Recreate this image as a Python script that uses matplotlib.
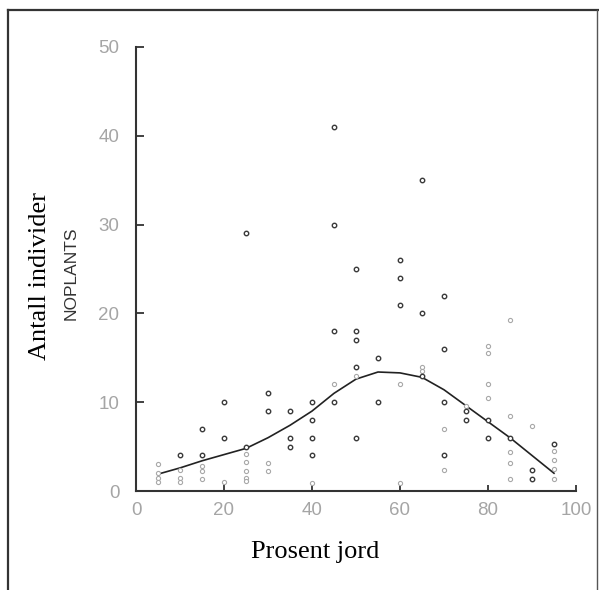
import matplotlib
matplotlib.use("Agg")
import matplotlib.pyplot as plt
from matplotlib.lines import Line2D

# ---- data ----
dark_x = [25, 45, 45, 45, 45, 50, 50, 50, 50, 50, 55, 55, 60, 60, 60, 65, 65, 65,
          70, 70, 70, 70, 35, 35, 35, 40, 40, 40, 40, 30, 30, 20, 20, 15, 15, 10,
          25, 75, 75, 80, 80, 85, 90, 90, 95]
dark_y = [29, 41, 30, 18, 10, 25, 18, 17, 14, 6, 15, 10, 26, 24, 21, 35, 20, 13,
          22, 16, 10, 4, 9, 6, 5, 10, 8, 6, 4, 11, 9, 10, 6, 7, 4, 4,
          5, 9, 8, 8, 6, 6, 2.4, 1.3, 5.3]

faint_x = [5, 5, 5, 5, 10, 10, 10, 15, 15, 15, 20, 25, 25, 25, 25, 25, 30, 30,
           40, 45, 50, 60, 60, 65, 65, 70, 70, 75, 80, 80, 80, 80, 85, 85, 85,
           85, 85, 90, 95, 95, 95, 95]
faint_y = [3, 2, 1.5, 1, 2.4, 1.5, 1, 2.8, 2.2, 1.3, 1, 4.2, 3.3, 2.3, 1.5, 1.1,
           3.2, 2.3, 0.9, 12, 13, 12, 0.9, 14, 13.5, 7, 2.4, 9.6, 16.3, 15.5,
           12.1, 10.5, 19.3, 8.5, 4.4, 3.1, 1.3, 7.3, 4.5, 3.5, 2.5, 1.3]

curve_x = [5, 10, 15, 20, 25, 30, 35, 40, 45, 50, 55, 60, 65, 70, 75, 80, 85, 90, 95]
curve_y = [1.9, 2.6, 3.4, 4.1, 4.8, 6.0, 7.4, 9.0, 11.0, 12.6, 13.4, 13.3, 12.8,
           11.4, 9.6, 7.8, 6.0, 4.0, 2.0]

xticks = [0, 20, 40, 60, 80, 100]
yticks = [0, 10, 20, 30, 40, 50]

fig = plt.figure(figsize=(5.99, 5.90), dpi=100)
ax = fig.add_axes([136/599, 1-491/590, 440/599, 444/590])

ax.plot(curve_x, curve_y, color="#222222", lw=1.2, zorder=2)
ax.plot(faint_x, faint_y, ls="none", marker="o", ms=3.0, mfc="white",
        mec="#a8a8a8", mew=0.8, zorder=3)
ax.plot(dark_x, dark_y, ls="none", marker="o", ms=3.2, mfc="white",
        mec="#3a3a3a", mew=1.0, zorder=4)

ax.set_xlim(0, 100)
ax.set_ylim(0, 50)
ax.set_xticks(xticks)
ax.set_yticks(yticks)
for s in ("top", "right"):
    ax.spines[s].set_visible(False)
for s in ("left", "bottom"):
    ax.spines[s].set_color("#333333")
    ax.spines[s].set_linewidth(1.5)
ax.tick_params(axis="both", direction="in", width=1.3, color="#333333",
               labelsize=13.5, labelcolor="#a5a5a5")
ax.tick_params(axis="y", pad=12, length=6)
ax.tick_params(axis="x", pad=8, length=4)
for lab in ax.get_xticklabels() + ax.get_yticklabels():
    lab.set_family(["Liberation Sans", "DejaVu Sans"])

fig.text(40/599, 1-276/590, "Antall individer", rotation=90, ha="center",
         va="center", family="Liberation Serif", fontsize=19, color="black")
fig.text(71/599, 1-273/590, "NOPLANTS", rotation=90, ha="center", va="center",
         family="Liberation Sans", fontsize=12.5, color="#333333")
fig.text(315/599, 1-552/590, "Prosent jord", ha="center", va="center",
         family="Liberation Serif", fontsize=19, color="black")

# outer frame of the scanned figure
fig.add_artist(Line2D([8/599, 1.0], [1-10/590, 1-10/590], transform=fig.transFigure,
                      color="#333333", lw=1.6))
fig.add_artist(Line2D([8/599, 8/599], [0, 1-10/590], transform=fig.transFigure,
                      color="#333333", lw=1.6))
fig.add_artist(Line2D([597/599, 597/599], [0, 1-10/590], transform=fig.transFigure,
                      color="#555555", lw=1.0))

fig.savefig("out.png", dpi=100)
